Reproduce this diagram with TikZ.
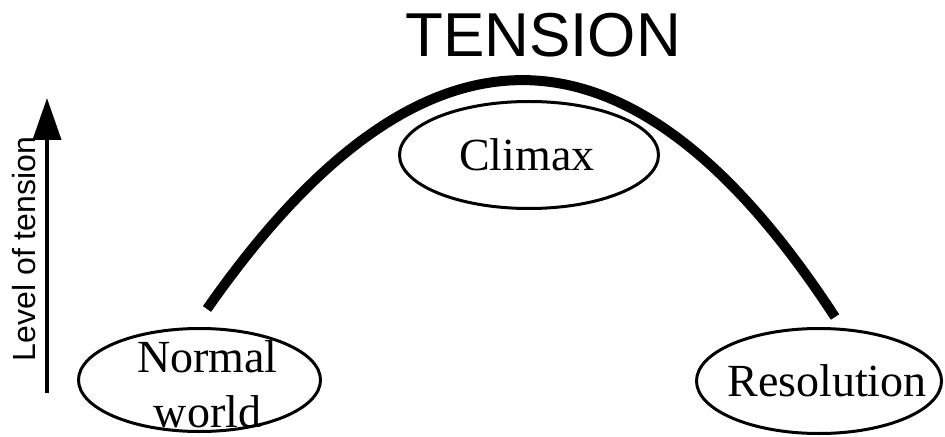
\documentclass[tikz,border=0pt]{standalone}
\usepackage{fontspec}
\setmainfont{Liberation Serif}
\newfontfamily\headfont{Liberation Sans}
\usetikzlibrary{shapes.geometric,arrows.meta}

\begin{document}
\begin{tikzpicture}[x=0.75pt,y=0.75pt]
    % Define styles
    \tikzstyle{stage} = [ellipse, draw=black, line width=2.25pt, inner sep=0pt]
    \tikzstyle{stagetext} = [align=center, inner sep=0pt, font=\fontsize{34.5pt}{41.4pt}\selectfont]
    \tikzstyle{arrow} = [line width=3pt, -{Triangle[length=31.5pt, width=21pt]}]
    \tikzstyle{arc} = [line width=7.5pt]

    \useasboundingbox (0,0) rectangle (945,436);

    % Title
    \node (title) [anchor=base, inner sep=0pt, font=\headfont\fontsize{46.5pt}{56pt}\selectfont] at (543,379) {TENSION};

    % Axis
    \coordinate (axisbot) at (47,43);
    \coordinate (axistop) at (47,338);
    \draw [arrow] (axisbot) -- (axistop);
    \node (axislabel) [rotate=90, anchor=base, inner sep=0pt, font=\headfont\fontsize{24pt}{29pt}\selectfont] at (36,187) {Level of tension};

    % Tension curve
    \coordinate (rise) at (207,127);
    \coordinate (fall) at (835,119);
    \draw [arc] (rise) .. controls (422,435) and (631,432) .. (fall);

    % Stages
    \node (climax) [stage, minimum width=194.25pt, minimum height=80.25pt] at (529,281) {};
    \node (normal) [stage, minimum width=181.5pt, minimum height=77.25pt] at (199.5,56) {};
    \node (resolution) [stage, minimum width=183.75pt, minimum height=78.75pt] at (819,55) {};

    \node (climaxtext) [stagetext, xshift=-1.5pt] at (climax) {Climax};
    \node (normaltext) [stagetext, xshift=6pt, yshift=-3pt] at (normal) {Normal\\world};
    \node (resolutiontext) [stagetext, xshift=6pt] at (resolution) {Resolution};
\end{tikzpicture}
\end{document}
